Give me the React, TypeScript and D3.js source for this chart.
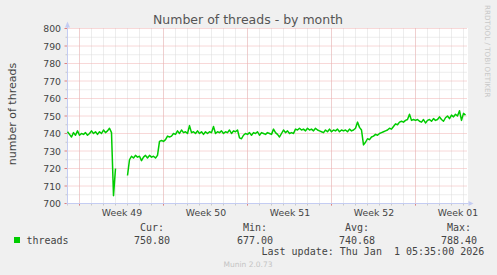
import React from "react";
import * as d3 from "d3";

const TITLE = "Number of threads - by month";
const Y_LABEL = "number of threads";
const SERIES_NAME = "threads";
const WEEK_LABELS = ["Week 49", "Week 50", "Week 51", "Week 52", "Week 01"];
const Y_TICKS = [700, 710, 720, 730, 740, 750, 760, 770, 780, 790, 800];
const STAT_HEADERS = ["Cur:", "Min:", "Avg:", "Max:"];
const STAT_VALUES = ["750.80", "677.00", "740.68", "788.40"];
const LAST_UPDATE = "Last update: Thu Jan  1 05:35:00 2026";
const FOOTER = "Munin 2.0.73";
const WATERMARK = "RRDTOOL / TOBI OETIKER";

// 4-hour samples starting 2025-11-30 00:00 UTC
const START = Date.UTC(2025, 10, 30);
const STEP_MS = 4 * 3600 * 1000;
const END = START + (400 / 12) * 24 * 3600 * 1000;

const threads: (number | null)[] = [
  741, 739.5, 738, 740.5, 739, 741.5, 739, 740, 739.5, 740.5,
  739, 740, 741.5, 740, 741, 739.5, 741, 740, 742, 740.5,
  741.5, 743, 740.5, 704.5, 720, null, null, null, null, null,
  716, 725, 727, 726, 727.5, 726.5, 727, 724.5, 726.5, 727.5,
  726, 727.5, 726.5, 727, 726, 727.5, 735.5, 736, 735.5, 736.5,
  738.5, 738, 738.5, 740, 739.5, 741.5, 740, 742, 740.5, 741,
  740, 744.5, 740.5, 741, 740, 741.5, 740, 741, 739.5, 741,
  740, 741, 740.5, 744, 740, 741, 740.5, 741.5, 740, 741,
  740.5, 742, 740, 741.5, 741, 742, 737.5, 737, 739, 740,
  739.5, 740.5, 739, 740.5, 740, 741, 739, 740.5, 740, 739.5,
  740.5, 740, 739.5, 742.5, 740.5, 739.5, 738, 740, 742, 740.5,
  741.5, 740, 740.5, 740, 742.5, 742, 743, 742, 742.5, 741.5,
  743, 742, 742.5, 741.5, 743, 742, 741.5, 741, 740.5, 742,
  741, 742.5, 741, 742, 741.5, 742.5, 741, 742, 741.5, 742,
  741, 742.5, 741.5, 742, 743, 746.5, 743.5, 742, 733.5, 735,
  737, 736.5, 738, 738.5, 739.5, 739, 740, 740.5, 741, 741.5,
  742, 743, 742.5, 744, 745.5, 745, 746.5, 747, 746.5, 747.5,
  748, 751, 747.5, 748, 747.5, 748, 747, 746.5, 748, 746,
  747.5, 748, 747, 748.5, 747.5, 748, 749.5, 748, 747, 749,
  750, 748.5, 750.5, 749.5, 751, 750, 753, 747.5, 751.5, 750.5,
];

const W = 497;
const H = 275;
const PL = 67.5, PR = 467.5, PT = 28.5, PB = 203.5;

const TEXT = "#444";
const GREEN = "#00cc00";
const MINOR = "#dadada";
const MAJOR = "#f0b0b0";
const AXIS = "#c4ccf2";

export default function App() {
  const x = d3.scaleUtc().domain([new Date(START), new Date(END)]).range([PL, PR]);
  const y = d3.scaleLinear().domain([700, 800]).range([PB, PT]);

  const days = d3.utcDay.range(new Date(START), new Date(END));
  const mondays = d3.utcMonday.range(new Date(START), new Date(END));
  const minorY = d3.range(700, 801, 5).filter((v) => v % 10 !== 0);

  const pts = threads.map((v, i) => ({ t: new Date(START + i * STEP_MS), v }));
  const line = d3
    .line<{ t: Date; v: number | null }>()
    .defined((d) => d.v != null)
    .x((d) => x(d.t))
    .y((d) => y(d.v as number));

  const sans = "DejaVu Sans, sans-serif";
  const mono = "DejaVu Sans Mono, monospace";
  const statX = [140, 243, 345, 447];
  const valX = [134, 237, 339, 441];

  return (
    <svg width={W} height={H} style={{ position: "absolute", left: 0, top: 0 }}>
      <rect x={0} y={0} width={W} height={H} fill="#f0f0f0" />
      <rect x={67} y={28} width={401} height={176} fill="#ffffff" />

      {/* minor grid */}
      {days.map((d, i) => (
        <line key={"dv" + i} x1={x(d)} x2={x(d)} y1={PT} y2={PB} stroke={MINOR} strokeDasharray="1,1" />
      ))}
      {minorY.map((v) => (
        <line key={"hy" + v} x1={PL} x2={PR} y1={y(v)} y2={y(v)} stroke={MINOR} strokeDasharray="1,1" />
      ))}
      {/* major grid */}
      {mondays.map((d, i) => (
        <line key={"mv" + i} x1={x(d)} x2={x(d)} y1={PT} y2={PB} stroke={MAJOR} strokeDasharray="1,1" />
      ))}
      {Y_TICKS.map((v) => (
        <line key={"my" + v} x1={PL} x2={PR} y1={y(v)} y2={y(v)} stroke={MAJOR} strokeDasharray="1,1" />
      ))}

      {/* ticks */}
      {days.map((d, i) => (
        <line key={"dt" + i} x1={x(d)} x2={x(d)} y1={PB} y2={PB + 2} stroke="#c8c8c8" />
      ))}
      {mondays.map((d, i) => (
        <line key={"mt" + i} x1={x(d)} x2={x(d)} y1={PB} y2={PB + 2} stroke="#e08080" />
      ))}
      {minorY.map((v) => (
        <line key={"yt" + v} x1={PL - 2} x2={PL} y1={y(v)} y2={y(v)} stroke="#c8c8c8" />
      ))}
      {Y_TICKS.map((v) => (
        <line key={"ymt" + v} x1={PL - 3} x2={PL} y1={y(v)} y2={y(v)} stroke="#e08080" />
      ))}

      {/* axes */}
      <line x1={PL} x2={PL} y1={PT - 2} y2={PB + 1} stroke={AXIS} />
      <line x1={PL - 1} x2={PR + 1} y1={PB} y2={PB} stroke={AXIS} />
      <path d={`M${PL - 2.5},${PT - 1} L${PL},${PT - 7} L${PL + 2.5},${PT - 1} Z`} fill={AXIS} />
      <path d={`M${PR + 1},${PB - 2.5} L${PR + 6},${PB} L${PR + 1},${PB + 2.5} Z`} fill={AXIS} />

      {/* data */}
      <path d={line(pts) || ""} fill="none" stroke={GREEN} strokeWidth={1.5} strokeLinejoin="round" />

      {/* y tick labels */}
      {Y_TICKS.map((v) => (
        <text key={"yl" + v} x={61} y={y(v) + 3.5} textAnchor="end" fontFamily={sans} fontSize={9.3} fill={TEXT}>
          {v}
        </text>
      ))}
      {/* x labels */}
      {mondays.map((d, i) => (
        <text
          key={"xl" + i}
          x={x(new Date(d.getTime() + 3.5 * 24 * 3600 * 1000)) + 0.5}
          y={216}
          textAnchor="middle"
          fontFamily={sans}
          fontSize={9.3}
          fill={TEXT}
        >
          {WEEK_LABELS[i]}
        </text>
      ))}

      {/* title */}
      <text x={248} y={24} textAnchor="middle" fontFamily={sans} fontSize={12.5} fill="#555">
        {TITLE}
      </text>
      {/* y label */}
      <text
        transform={`translate(15.5,114) rotate(-90)`}
        textAnchor="middle"
        fontFamily={sans}
        fontSize={11}
        fill={TEXT}
      >
        {Y_LABEL}
      </text>
      {/* watermark */}
      <text transform={`translate(485,5) rotate(90)`} fontFamily={sans} fontSize={7.2} fill="#c8c8c8">
        {WATERMARK}
      </text>

      {/* legend */}
      <rect x={14} y={237} width={6} height={6} fill={GREEN} />
      <text x={26.5} y={243.5} fontFamily={mono} fontSize={10} fill={TEXT}>
        {SERIES_NAME}
      </text>
      {STAT_HEADERS.map((s, i) => (
        <text key={"sh" + i} x={statX[i]} y={231} fontFamily={mono} fontSize={10} fill={TEXT}>
          {s}
        </text>
      ))}
      {STAT_VALUES.map((s, i) => (
        <text key={"sv" + i} x={valX[i]} y={243.5} fontFamily={mono} fontSize={10} fill={TEXT}>
          {s}
        </text>
      ))}
      <text x={261.5} y={255} fontFamily={mono} fontSize={10} fill={TEXT} style={{ whiteSpace: "pre" }}>
        {LAST_UPDATE}
      </text>
      <text x={248} y={267} textAnchor="middle" fontFamily={sans} fontSize={7.5} fill="#c4c4c4">
        {FOOTER}
      </text>
    </svg>
  );
}
